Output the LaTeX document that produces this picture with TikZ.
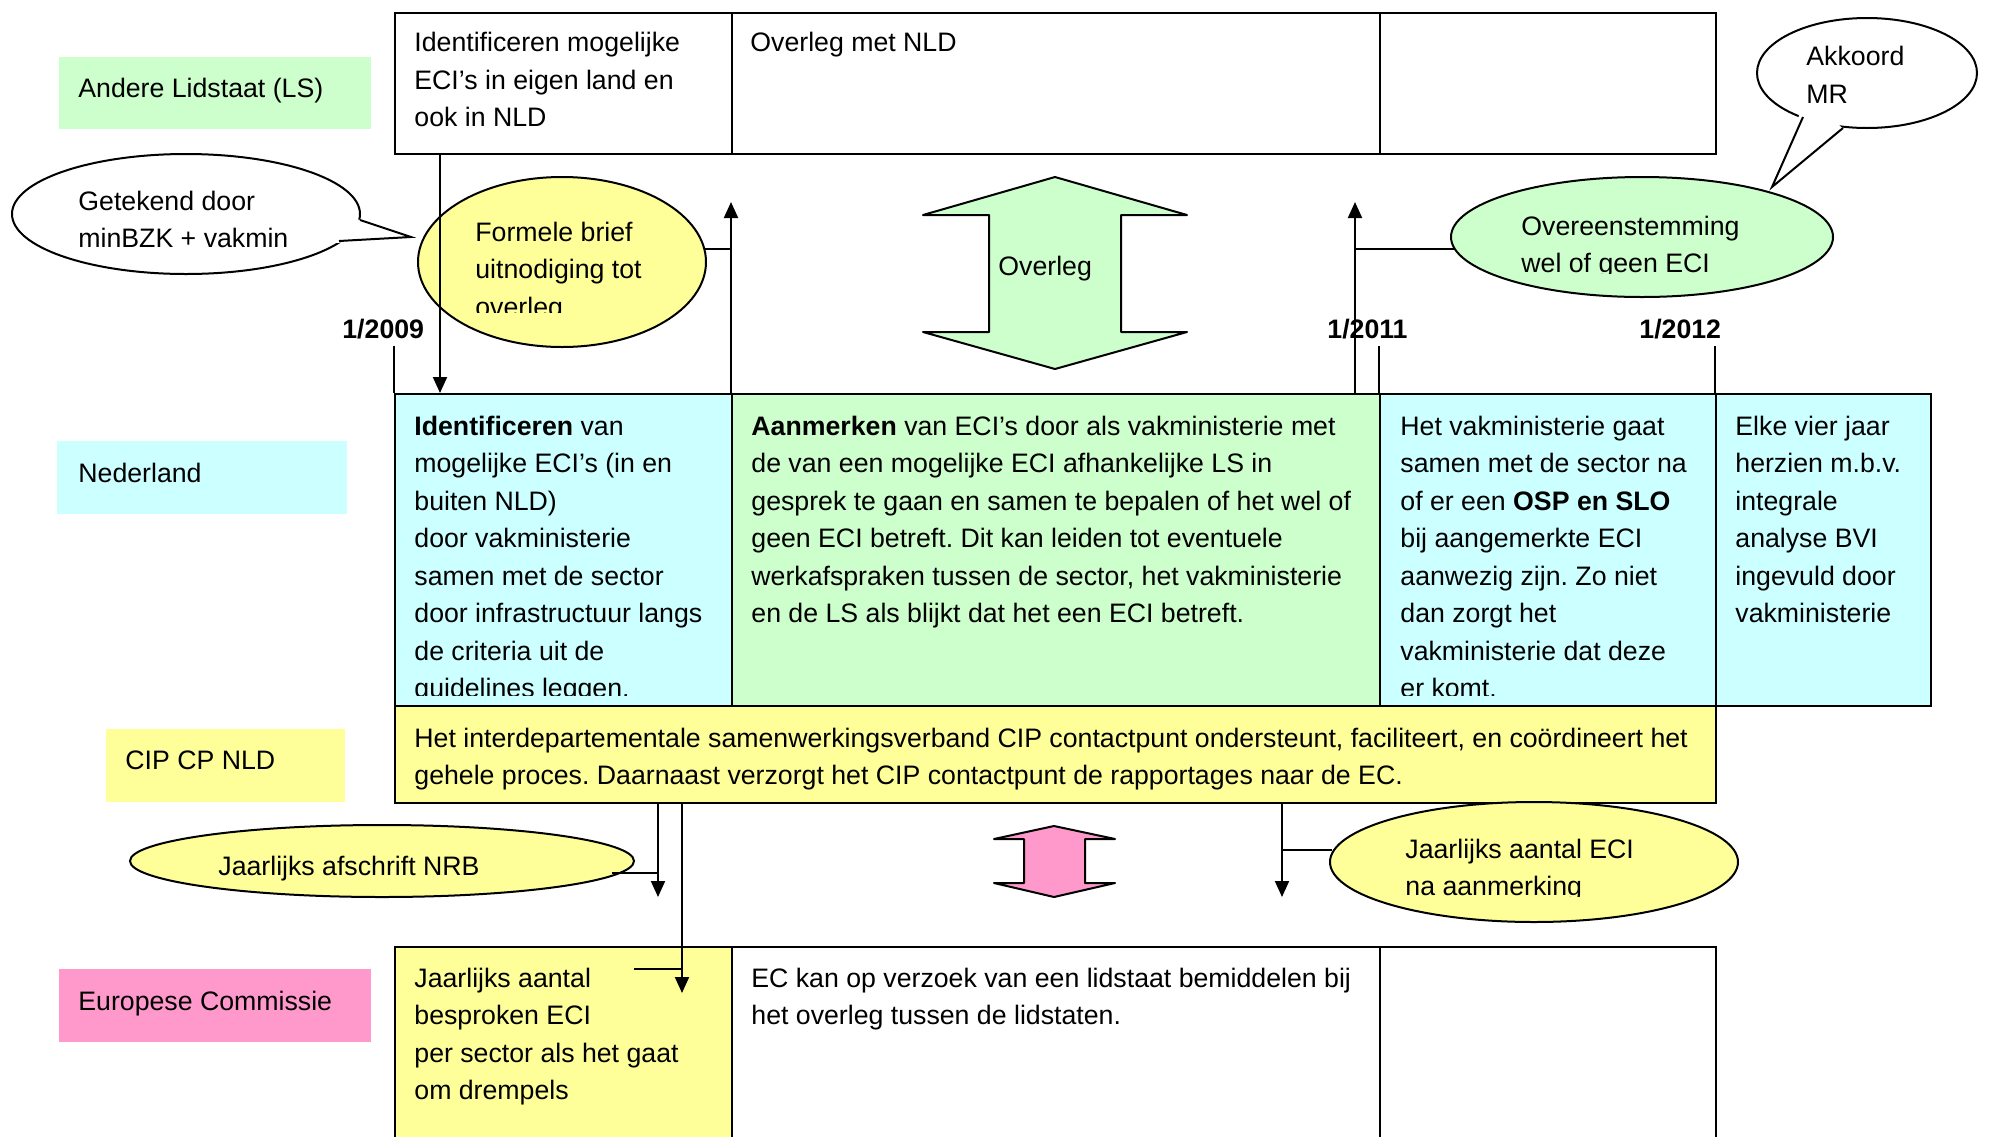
\documentclass[tikz,border=0pt]{standalone}
\usepackage{fontspec}
\setmainfont{Liberation Sans}
\usetikzlibrary{shapes.geometric,arrows.meta}
\definecolor{lgreen}{HTML}{CCFFCC}
\definecolor{lcyan}{HTML}{CCFFFF}
\definecolor{lyellow}{HTML}{FFFF99}
\definecolor{lpink}{HTML}{FF99CC}
\newcommand\fs{\fontsize{13.35}{18.75}\selectfont\frenchspacing}
\begin{document}
\frenchspacing
\begin{tikzpicture}[x=0.5pt,y=-0.5pt,
  cell/.style={draw=black, line width=1pt, anchor=north west, inner sep=0pt},
  labbox/.style={anchor=north west, inner sep=0pt},
  txt/.style={anchor=north west, inner sep=0pt, align=left, font=\fs},
  lab/.style={anchor=base west, inner sep=0pt, font=\fs},
  datelab/.style={anchor=base west, inner sep=0pt, font=\fs\bfseries},
  oval/.style={ellipse, draw=black, line width=1pt, inner sep=0pt},
  arr/.style={line width=1pt, -{Triangle[length=8pt,width=7pt]}},
  ln/.style={line width=1pt},
  bigarrow/.style={draw=black, line width=1pt, line join=round}]
\useasboundingbox (0,0) rectangle (1993,1136);

% ---- row labels
\node[labbox, fill=lgreen, minimum width=156pt, minimum height=36pt] (lsl) at (59,57) {};
\node[lab] (lslt) at (78,97) {Andere Lidstaat (LS)};
\node[labbox, fill=lcyan, minimum width=145pt, minimum height=36.5pt] (nll) at (57,441) {};
\node[lab] (nllt) at (78,482) {Nederland};
\node[labbox, fill=lyellow, minimum width=119.5pt, minimum height=36.5pt] (cipl) at (106,729) {};
\node[lab] (ciplt) at (125,769) {CIP CP NLD};
\node[labbox, fill=lpink, minimum width=156pt, minimum height=36.5pt] (ecl) at (59,969) {};
\node[lab] (eclt) at (78,1010) {Europese Commissie};

% ---- top row (Andere Lidstaat)
\node[cell, fill=white, minimum width=168.5pt, minimum height=70.5pt] (ls1) at (394,12) {};
\node[cell, fill=white, minimum width=324pt, minimum height=70.5pt] (ls2) at (731,12) {};
\node[cell, fill=white, minimum width=168pt, minimum height=70.5pt] (ls3) at (1379,12) {};
\node[txt] (ls1t) at (414,25) {\strut Identificeren mogelijke\\ECI’s in eigen land en\\ook in NLD};
\node[txt] (ls2t) at (750,25) {\strut Overleg met NLD};

% ---- NL row
\node[cell, fill=lcyan, minimum width=168.5pt, minimum height=156pt] (nl1) at (394,393) {};
\node[cell, fill=lgreen, minimum width=324pt, minimum height=156pt] (nl2) at (731,393) {};
\node[cell, fill=lcyan, minimum width=168pt, minimum height=156pt] (nl3) at (1379,393) {};
\node[cell, fill=lcyan, minimum width=107.5pt, minimum height=156pt] (nl4) at (1715,393) {};
\begin{scope}
\clip (394,393) rectangle (1930,695);
\node[txt] (nl1t) at (414,408.5) {\strut\textbf{Identificeren} van\\mogelijke ECI’s (in en\\buiten NLD)\\door vakministerie\\samen met de sector\\door infrastructuur langs\\de criteria uit de\\guidelines leggen.};
\node[txt] (nl2t) at (751,408.5) {\strut\textbf{Aanmerken} van ECI’s door als vakministerie met\\de van een mogelijke ECI afhankelijke LS in\\gesprek te gaan en samen te bepalen of het wel of\\geen ECI betreft. Dit kan leiden tot eventuele\\werkafspraken tussen de sector, het vakministerie\\en de LS als blijkt dat het een ECI betreft.};
\node[txt] (nl3t) at (1400,408.5) {\strut Het vakministerie gaat\\samen met de sector na\\of er een \textbf{OSP en SLO}\\bij aangemerkte ECI\\aanwezig zijn. Zo niet\\dan zorgt het\\vakministerie dat deze\\er komt.};
\node[txt] (nl4t) at (1735,408.5) {\strut Elke vier jaar\\herzien m.b.v.\\integrale\\analyse BVI\\ingevuld door\\vakministerie};
\end{scope}

% ---- CIP row
\node[cell, fill=lyellow, minimum width=660.5pt, minimum height=48.5pt] (cip) at (394,705) {};
\node[txt] (cipt) at (414,720.5) {\strut Het interdepartementale samenwerkingsverband CIP contactpunt ondersteunt, faciliteert, en coördineert het\\gehele proces. Daarnaast verzorgt het CIP contactpunt de rapportages naar de EC.};

% ---- EC row
\node[cell, fill=lyellow, minimum width=168.5pt, minimum height=125pt] (ec1) at (394,946) {};
\node[cell, fill=white, minimum width=324pt, minimum height=125pt] (ec2) at (731,946) {};
\node[cell, fill=white, minimum width=168pt, minimum height=125pt] (ec3) at (1379,946) {};
\node[txt] (ec1t) at (414,960.5) {\strut Jaarlijks aantal\\besproken ECI\\per sector als het gaat\\om drempels};
\node[txt] (ec2t) at (751,960.5) {\strut EC kan op verzoek van een lidstaat bemiddelen bij\\het overleg tussen de lidstaten.};

% ---- callout Getekend
\node[oval, fill=white, minimum width=174pt, minimum height=60pt] (get) at (186,214) {};
\coordinate (getb1) at (360,220);
\coordinate (gettip) at (411,237);
\coordinate (getb2) at (339,241);
\fill[white] (354,218) -- (gettip) -- (336,243) -- (330,230) -- cycle;
\draw[ln] (getb1) -- (gettip) -- (getb2);
\node[txt] (gett) at (78,183.5) {\strut Getekend door\\minBZK + vakmin};

% ---- callout Akkoord
\node[oval, fill=white, minimum width=110pt, minimum height=55pt] (akk) at (1867,73) {};
\coordinate (akkb1) at (1803,117);
\coordinate (akktip) at (1772,187);
\coordinate (akkb2) at (1843,128);
\fill[white] (1800,113) -- (akktip) -- (1845,131) -- (1826,112) -- cycle;
\draw[ln] (akkb1) -- (akktip) -- (akkb2);
\node[txt] (akkt) at (1806,39) {\strut Akkoord\\MR};

% ---- Formele brief ellipse
\node[oval, fill=lyellow, minimum width=144pt, minimum height=85pt] (brief) at (562,262) {};
\begin{scope}
\clip (420,180) rectangle (705,312);
\node[txt] (brieft) at (475,214.5) {\strut Formele brief\\uitnodiging tot\\overleg};
\end{scope}

% ---- Overeenstemming ellipse
\node[oval, fill=lgreen, minimum width=191pt, minimum height=60pt] (overeen) at (1642,237) {};
\begin{scope}
\clip (1455,180) rectangle (1830,273);
\node[txt] (overeent) at (1521,208.5) {\strut Overeenstemming\\wel of geen ECI};
\end{scope}

% ---- Overleg double arrow
\draw[bigarrow, fill=lgreen] (1055,177) -- (1187,215) -- (1121,215) -- (1121,332) -- (1187,332) -- (1055,369) -- (923,332) -- (989,332) -- (989,215) -- (923,215) -- cycle;
\node[lab] (overlegt) at (998,275) {Overleg};

% ---- pink double arrow
\draw[bigarrow, fill=lpink] (1054,826) -- (1115,839) -- (1085,839) -- (1085,883) -- (1115,883) -- (1054,897) -- (994,883) -- (1024,883) -- (1024,839) -- (994,839) -- cycle;

% ---- bottom ellipses
\node[oval, fill=lyellow, minimum width=252pt, minimum height=36pt] (nrb) at (382,861) {};
\node[lab] (nrbt) at (218,875) {Jaarlijks afschrift NRB};
\node[oval, fill=lyellow, minimum width=204pt, minimum height=60pt] (aant) at (1534,862) {};
\begin{scope}
\clip (1335,805) rectangle (1735,896);
\node[txt] (aantt) at (1405,831.5) {\strut Jaarlijks aantal ECI\\na aanmerking};
\end{scope}

% ---- date labels and ticks
\node[datelab] (d2009) at (342,338) {1/2009};
\node[datelab] (d2011) at (1327,338) {1/2011};
\node[datelab] (d2012) at (1639,338) {1/2012};
\coordinate (t1a) at (394,346); \coordinate (t1b) at (394,393);
\coordinate (t2a) at (1379,346); \coordinate (t2b) at (1379,393);
\coordinate (t3a) at (1715,346); \coordinate (t3b) at (1715,393);
\draw[ln] (t1a) -- (t1b);
\draw[ln] (t2a) -- (t2b);
\draw[ln] (t3a) -- (t3b);

% ---- connectors upper
\coordinate (c1a) at (440,153); \coordinate (c1b) at (440,393);
\draw[arr] (c1a) -- (c1b);
\coordinate (c2a) at (731,393); \coordinate (c2b) at (731,202);
\draw[arr] (c2a) -- (c2b);
\coordinate (c2j) at (731,249); \coordinate (c2e) at (705,249);
\draw[ln] (c2e) -- (c2j);
\coordinate (c3a) at (1355,393); \coordinate (c3b) at (1355,202);
\draw[arr] (c3a) -- (c3b);
\coordinate (c3j) at (1355,249); \coordinate (c3e) at (1455,249);
\draw[ln] (c3j) -- (c3e);

% ---- connectors lower
\coordinate (c4a) at (658,802); \coordinate (c4b) at (658,897);
\draw[arr] (c4a) -- (c4b);
\coordinate (c4e) at (612,873); \coordinate (c4j) at (658,873);
\draw[ln] (c4e) -- (c4j);
\coordinate (c5a) at (682,802); \coordinate (c5b) at (682,993);
\draw[arr] (c5a) -- (c5b);
\coordinate (c5e) at (634,969); \coordinate (c5j) at (682,969);
\draw[ln] (c5e) -- (c5j);
\coordinate (c6a) at (1282,802); \coordinate (c6b) at (1282,897);
\draw[arr] (c6a) -- (c6b);
\coordinate (c6j) at (1282,850); \coordinate (c6e) at (1332,850);
\draw[ln] (c6j) -- (c6e);
\end{tikzpicture}
\end{document}
